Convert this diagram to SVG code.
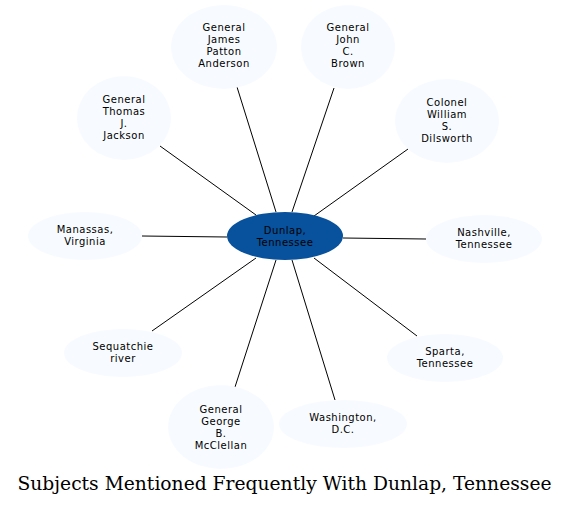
<svg xmlns="http://www.w3.org/2000/svg" width="569" height="506" viewBox="0 0 569 506">
<style>
.n ellipse{fill:#f7fbff;stroke:none}
.c ellipse{fill:#08519c;stroke:none}
text{font-family:"DejaVu Sans",sans-serif;font-size:10px;letter-spacing:0.5px;text-anchor:middle;fill:#000}
.t{font-family:"DejaVu Serif",serif;font-size:18.7px;letter-spacing:0}
#edges line{stroke:#000;stroke-width:1}
</style>
<rect width="569" height="506" fill="#fff"/>
<g id="edges">
<line x1="276" y1="212" x2="237" y2="87"/>
<line x1="292" y1="212" x2="334" y2="88"/>
<line x1="256" y1="215" x2="160" y2="146"/>
<line x1="314" y1="216" x2="408" y2="149"/>
<line x1="227" y1="237" x2="142" y2="236"/>
<line x1="343" y1="238" x2="426" y2="239"/>
<line x1="256" y1="258" x2="152" y2="331"/>
<line x1="314" y1="258" x2="417" y2="336"/>
<line x1="276" y1="260" x2="235" y2="387"/>
<line x1="292" y1="260" x2="335" y2="400"/>
</g>
<g id="center" class="c"><ellipse cx="285" cy="236" rx="58" ry="24"/><text x="285" y="234">Dunlap,</text><text x="285" y="246">Tennessee</text></g>
<g id="anderson" class="n"><ellipse cx="224" cy="47" rx="53" ry="42"/><text x="224" y="31">General</text><text x="224" y="43">James</text><text x="224" y="55">Patton</text><text x="224" y="67">Anderson</text></g>
<g id="brown" class="n"><ellipse cx="348" cy="47" rx="47" ry="42"/><text x="348" y="31">General</text><text x="348" y="43">John</text><text x="348" y="55">C.</text><text x="348" y="67">Brown</text></g>
<g id="jackson" class="n"><ellipse cx="124" cy="118" rx="47" ry="42"/><text x="124" y="103">General</text><text x="124" y="115">Thomas</text><text x="124" y="127">J.</text><text x="124" y="139">Jackson</text></g>
<g id="dilsworth" class="n"><ellipse cx="447" cy="121" rx="52" ry="42"/><text x="447" y="106">Colonel</text><text x="447" y="118">William</text><text x="447" y="130">S.</text><text x="447" y="142">Dilsworth</text></g>
<g id="manassas" class="n"><ellipse cx="85" cy="236" rx="57" ry="24"/><text x="85" y="233">Manassas,</text><text x="85" y="245">Virginia</text></g>
<g id="nashville" class="n"><ellipse cx="484" cy="239" rx="58" ry="24"/><text x="484" y="236">Nashville,</text><text x="484" y="248">Tennessee</text></g>
<g id="sequatchie" class="n"><ellipse cx="123" cy="353" rx="59" ry="24"/><text x="123" y="350">Sequatchie</text><text x="123" y="362">river</text></g>
<g id="sparta" class="n"><ellipse cx="445" cy="358" rx="58" ry="24"/><text x="445" y="355">Sparta,</text><text x="445" y="367">Tennessee</text></g>
<g id="mcclellan" class="n"><ellipse cx="221" cy="427" rx="53" ry="42"/><text x="221" y="413">General</text><text x="221" y="425">George</text><text x="221" y="437">B.</text><text x="221" y="449">McClellan</text></g>
<g id="washington" class="n"><ellipse cx="343" cy="424" rx="64" ry="24"/><text x="343" y="421">Washington,</text><text x="343" y="433">D.C.</text></g>
<text class="t" x="284.5" y="490">Subjects Mentioned Frequently With Dunlap, Tennessee</text>
</svg>
